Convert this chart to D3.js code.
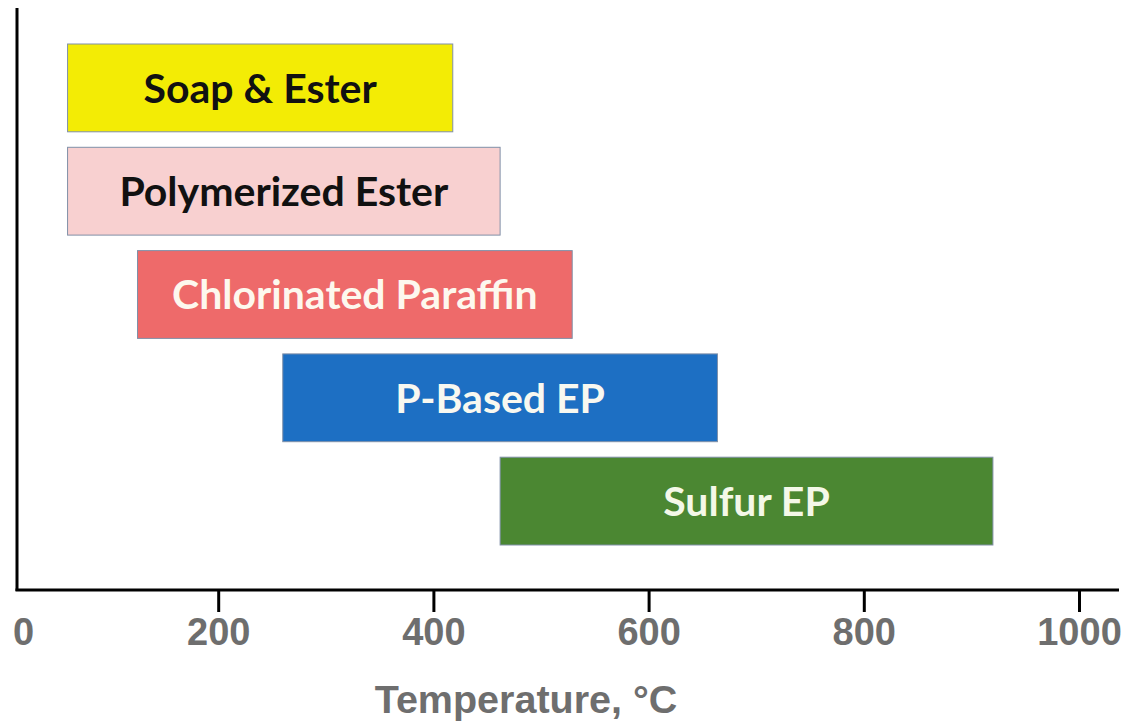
<!DOCTYPE html>
<html><head><meta charset="utf-8">
<script src="https://cdn.jsdelivr.net/npm/d3@7"></script>
<style>html,body{margin:0;padding:0;background:#fff;}</style>
</head><body>
<svg id="c" width="1126" height="727"></svg>
<script>
const categories = ["Soap & Ester","Polymerized Ester","Chlorinated Paraffin","P-Based EP","Sulfur EP"];
const startTemps = [60, 60, 125, 260, 462];
const endTemps   = [418, 462, 529, 664, 920];
const barColors  = ["#f3ec05","#f8d0d0","#ee6a6a","#1d6fc3","#4b8732"];
const labelColors= ["#111111","#111111","#fdf8ee","#f8f8f0","#f4f8e8"];
const tickValues = [0,200,400,600,800,1000];
const axisTitle  = "Temperature, °C";

const svg = d3.select("#c");
const x = d3.scaleLinear().domain([0,1000]).range([3,1079]);
const y = d3.scaleBand().domain(categories).range([44,545]).paddingInner(0.15).paddingOuter(0);
const axisY = 590, plotLeft = 17, plotRight = 1119;

const data = categories.map((c,i)=>({c, s:startTemps[i], e:endTemps[i], col:barColors[i], tc:labelColors[i]}));

const g = svg.append("g");
g.selectAll("rect.bar").data(data).enter().append("rect")
  .attr("class","bar")
  .attr("x",d=>x(d.s)).attr("y",d=>y(d.c))
  .attr("width",d=>x(d.e)-x(d.s)).attr("height",y.bandwidth())
  .attr("fill",d=>d.col).attr("stroke","#8090a8").attr("stroke-width",1);

g.selectAll("text.lbl").data(data).enter().append("text")
  .attr("class","lbl")
  .attr("x",d=>(x(d.s)+x(d.e))/2).attr("y",d=>y(d.c)+y.bandwidth()/2)
  .attr("dy","0.36em").attr("text-anchor","middle")
  .attr("font-family","Lato, 'Open Sans', sans-serif").attr("font-weight","bold")
  .attr("font-size",41).attr("fill",d=>d.tc).text(d=>d.c);

svg.append("line").attr("x1",plotLeft).attr("x2",plotLeft).attr("y1",8).attr("y2",axisY+1)
  .attr("stroke","#000").attr("stroke-width",3);

const ax = svg.append("g").attr("transform",`translate(0,${axisY})`)
  .call(d3.axisBottom(x).tickValues(tickValues).tickSize(22).tickPadding(4).tickFormat(d3.format("d")));
ax.select(".domain").remove();
ax.selectAll(".tick line").attr("stroke","#000").attr("stroke-width",3)
  .attr("display",d=>d===0?"none":null);
ax.selectAll(".tick text").attr("font-family","'Liberation Sans', Arial, sans-serif")
  .attr("font-weight","bold").attr("font-size",38).attr("fill","#6e6e6e")
  .attr("y",null).attr("dy",null).attr("transform","translate(0,55)")
  .attr("dx",d=>d===0?20:0);
svg.append("line").attr("x1",plotLeft-1.5).attr("x2",plotRight).attr("y1",axisY).attr("y2",axisY)
  .attr("stroke","#000").attr("stroke-width",3);

svg.append("text").attr("x",526).attr("y",713).attr("text-anchor","middle")
  .attr("font-family","'Liberation Sans', Arial, sans-serif").attr("font-weight","bold")
  .attr("font-size",39.5).attr("fill","#6e6e6e").text(axisTitle);
</script>
</body></html>
